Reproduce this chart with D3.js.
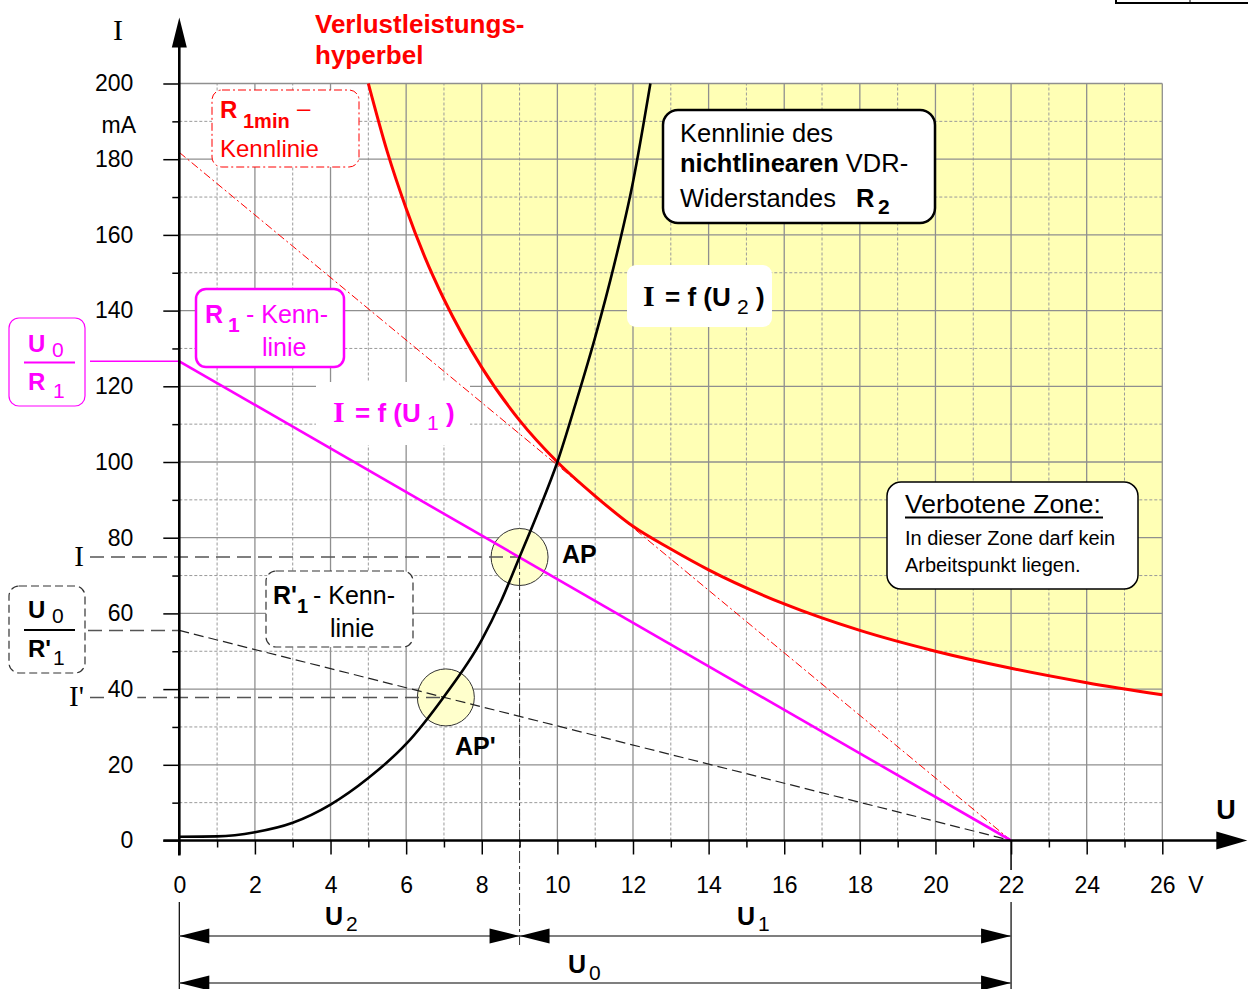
<!DOCTYPE html>
<html>
<head>
<meta charset="utf-8">
<script src="https://cdn.jsdelivr.net/npm/d3@7"></script>
<style>
  html, body { margin: 0; padding: 0; background: #fff; }
  svg { display: block; font-family: "Liberation Sans", Arial, sans-serif; }
  text { white-space: pre; }
</style>
</head>
<body>
<div id="chart"></div>
<script>
// Achsen
const U_TICKS = d3.range(0, 27, 2);
const U_MINOR = d3.range(1, 27, 2);
const I_TICKS = d3.range(0, 201, 20);
const I_MINOR = d3.range(10, 200, 20);

// Kennlinie VDR-Widerstand R2
const vdrU = [0, 1, 2, 3, 4, 5, 6, 7, 8, 8.5, 9, 9.5, 10, 10.5, 11, 11.5, 12, 12.46];
const vdrI = [1, 1.1, 2.2, 4.7, 9.5, 16.5, 25.5, 38, 53, 63, 74.9, 87, 100, 116, 133, 152, 174, 200];

// Verlustleistungshyperbel
const hypU = [5, 5.5, 6, 6.5, 7, 8, 9, 10, 11, 12, 13, 14, 16, 18, 20, 22, 24, 26];
const hypI = [200, 182, 167, 154, 143, 125, 111, 100, 91, 83, 77, 71.5, 62.5, 55.5, 50, 45.5, 41.7, 38.5];

// Widerstandsgeraden
const lineU = [0, 22];
const r1I = [126.6, 0];
const r1minI = [181.8, 0];
const r1pI = [55.5, 0];

// Arbeitspunkte
const apU = [9, 7.05];
const apI = [74.9, 37.8];
const apName = ['AP', "AP'"];

const W = 1248, H = 989;
const SERIF = '"Liberation Serif", "Times New Roman", serif';
const PINK = '#ff00ff', RED = '#ff0000';

const svg = d3.select('#chart').append('svg').attr('width', W).attr('height', H);
svg.append('rect').attr('width', W).attr('height', H).attr('fill', '#fff');

const x = d3.scaleLinear().domain([0, 26]).range([179.3, 1162.3]);
const y = d3.scaleLinear().domain([0, 200]).range([840.5, 83.5]);

const pts = (us, is) => us.map((u, k) => [u, is[k]]);
const line = d3.line().x(d => x(d[0])).y(d => y(d[1]));

// Verbotene Zone
svg.append('path')
  .datum(pts(hypU, hypI))
  .attr('d', d3.area().x(d => x(d[0])).y0(y(200)).y1(d => y(d[1])).curve(d3.curveMonotoneX))
  .attr('fill', '#ffffb5');

// Raster
const grid = svg.append('g');
grid.selectAll('line.v').data(d3.range(1, 27)).join('line')
  .attr('x1', d => x(d)).attr('x2', d => x(d))
  .attr('y1', y(0)).attr('y2', y(200))
  .attr('stroke', d => d % 2 ? '#9a9a9a' : '#8f8f8f')
  .attr('stroke-width', d => d % 2 ? 1 : 1.3)
  .attr('stroke-dasharray', d => d % 2 ? '3,2' : null);
grid.selectAll('line.h').data(d3.range(10, 201, 10)).join('line')
  .attr('x1', x(0)).attr('x2', x(26))
  .attr('y1', d => y(d)).attr('y2', d => y(d))
  .attr('stroke', d => d % 20 ? '#9a9a9a' : '#8f8f8f')
  .attr('stroke-width', d => d % 20 ? 1 : 1.3)
  .attr('stroke-dasharray', d => d % 20 ? '3,2' : null);

function box(x0, y0, x1, y1, r, stroke, sw, dash) {
  svg.append('rect')
    .attr('x', x0).attr('y', y0).attr('width', x1 - x0).attr('height', y1 - y0)
    .attr('rx', r).attr('ry', r)
    .attr('fill', '#fff')
    .attr('stroke', stroke || 'none')
    .attr('stroke-width', sw || 0)
    .attr('stroke-dasharray', dash || null);
}

// Kästen
box(212, 90, 359, 167, 10, RED, 1, '8,3,2,3');
box(663, 110, 935, 223, 15, '#000', 2.5);
box(627, 265, 772, 327, 9);
box(196, 289, 344, 367, 10, PINK, 2.5);
box(9, 318, 85, 406, 10, PINK, 1.2);
box(316, 382, 470, 445, 0);
box(887, 482, 1138, 589, 14, '#000', 1.5);
box(266, 571, 413, 647, 10, '#333', 1.2, '8,4');
box(9, 586, 85, 673, 10, '#333', 1.2, '8,4');

// Kreise um die Arbeitspunkte
svg.selectAll('circle.ap').data(apU).join('circle')
  .attr('cx', d => x(d)).attr('cy', (d, k) => y(apI[k]))
  .attr('r', 28.5)
  .attr('fill', '#ffffcc')
  .attr('stroke', '#333').attr('stroke-width', 1);

// Hilfslinien
const helper = svg.append('g').attr('fill', 'none');
helper.append('line')
  .attr('x1', 90).attr('x2', x(apU[0])).attr('y1', y(apI[0])).attr('y2', y(apI[0]))
  .attr('stroke', '#555').attr('stroke-width', 1.4).attr('stroke-dasharray', '14,7');
helper.append('line')
  .attr('x1', 90).attr('x2', x(apU[1])).attr('y1', y(apI[1])).attr('y2', y(apI[1]))
  .attr('stroke', '#555').attr('stroke-width', 1.4).attr('stroke-dasharray', '14,7');
helper.append('line')
  .attr('x1', 88).attr('x2', x(0)).attr('y1', y(r1pI[0])).attr('y2', y(r1pI[0]))
  .attr('stroke', '#555').attr('stroke-width', 1.4).attr('stroke-dasharray', '14,7');
helper.append('line')
  .attr('x1', 90).attr('x2', x(0)).attr('y1', y(r1I[0])).attr('y2', y(r1I[0]))
  .attr('stroke', PINK).attr('stroke-width', 1.5);
helper.append('line')
  .attr('x1', x(apU[0])).attr('x2', x(apU[0])).attr('y1', y(apI[0])).attr('y2', 945)
  .attr('stroke', '#333').attr('stroke-width', 1).attr('stroke-dasharray', '12,3,3,3');

// Kennlinien
svg.append('path').datum(pts(lineU, r1minI)).attr('d', line)
  .attr('fill', 'none').attr('stroke', RED).attr('stroke-width', 1).attr('stroke-dasharray', '8,3,2,3');
svg.append('path').datum(pts(lineU, r1pI)).attr('d', line)
  .attr('fill', 'none').attr('stroke', '#222').attr('stroke-width', 1.2).attr('stroke-dasharray', '10,5');
svg.append('path').datum(pts(lineU, r1I)).attr('d', line)
  .attr('fill', 'none').attr('stroke', PINK).attr('stroke-width', 2.6);
svg.append('path').datum(pts(hypU, hypI)).attr('d', line.curve(d3.curveMonotoneX))
  .attr('fill', 'none').attr('stroke', RED).attr('stroke-width', 3);
svg.append('path').datum(pts(vdrU, vdrI)).attr('d', d3.line().x(d => x(d[0])).y(d => y(d[1])).curve(d3.curveMonotoneX))
  .attr('fill', 'none').attr('stroke', '#000').attr('stroke-width', 2.6);

// Achsen
const fontAxis = g => g.selectAll('text').attr('font-size', 23).attr('fill', '#000')
  .attr('font-family', '"Liberation Sans", Arial, sans-serif');

const yG = svg.append('g').attr('transform', `translate(${x(0)},0)`)
  .call(d3.axisLeft(y).tickValues(I_TICKS).tickSize(16).tickPadding(30).tickSizeOuter(0))
  .call(fontAxis);
yG.select('.domain').remove();
yG.selectAll('line').attr('stroke', '#000').attr('stroke-width', 1.5);
yG.selectAll('.tick').filter(d => d === 40).insert('rect', 'text')
  .attr('x', -74).attr('y', -12).attr('width', 32).attr('height', 24).attr('fill', '#fff');

const yMinor = svg.append('g').attr('transform', `translate(${x(0)},0)`)
  .call(d3.axisLeft(y).tickValues(I_MINOR).tickSize(7).tickFormat('').tickSizeOuter(0));
yMinor.select('.domain').remove();
yMinor.selectAll('line').attr('stroke', '#000').attr('stroke-width', 1.5);

const xG = svg.append('g').attr('transform', `translate(0,${y(0)})`)
  .call(d3.axisBottom(x).tickValues(U_TICKS).tickSize(14).tickPadding(22).tickSizeOuter(0))
  .call(fontAxis);
xG.select('.domain').remove();
xG.selectAll('line').attr('stroke', '#000').attr('stroke-width', 1.5);

const xMinor = svg.append('g').attr('transform', `translate(0,${y(0)})`)
  .call(d3.axisBottom(x).tickValues(U_MINOR).tickSize(7).tickFormat('').tickSizeOuter(0));
xMinor.select('.domain').remove();
xMinor.selectAll('line').attr('stroke', '#000').attr('stroke-width', 1.5);

// Achsenlinien mit Pfeilen
svg.append('line').attr('x1', x(0)).attr('x2', x(0)).attr('y1', y(0) + 15).attr('y2', y(200) - 37)
  .attr('stroke', '#000').attr('stroke-width', 2.6);
svg.append('line').attr('x1', x(0) - 16).attr('x2', x(26) + 56).attr('y1', y(0)).attr('y2', y(0))
  .attr('stroke', '#000').attr('stroke-width', 2.6);

function arrow(tx, ty, dir, len, half) {
  const p = {
    up: [[tx, ty], [tx - half, ty + len], [tx + half, ty + len]],
    left: [[tx, ty], [tx + len, ty - half], [tx + len, ty + half]],
    right: [[tx, ty], [tx - len, ty - half], [tx - len, ty + half]]
  }[dir];
  svg.append('path').attr('d', 'M' + p.join('L') + 'Z').attr('fill', '#000');
}
arrow(x(0), y(200) - 66, 'up', 30, 7.5);
arrow(x(26) + 85, y(0), 'right', 31, 9);

// Bemaßung U2, U1, U0
const dimY1 = 936, dimY2 = 983;
svg.append('line').attr('x1', x(0)).attr('x2', x(0)).attr('y1', 902).attr('y2', H)
  .attr('stroke', '#000').attr('stroke-width', 1.2);
svg.append('line').attr('x1', x(22)).attr('x2', x(22)).attr('y1', y(0)).attr('y2', 870)
  .attr('stroke', '#000').attr('stroke-width', 1.5);
svg.append('line').attr('x1', x(22)).attr('x2', x(22)).attr('y1', 902).attr('y2', H)
  .attr('stroke', '#000').attr('stroke-width', 1.2);
[[0, apU[0], dimY1], [apU[0], 22, dimY1], [0, 22, dimY2]].forEach(([a, b, yy]) => {
  svg.append('line').attr('x1', x(a)).attr('x2', x(b)).attr('y1', yy).attr('y2', yy)
    .attr('stroke', '#555').attr('stroke-width', 1.5);
  arrow(x(a), yy, 'left', 30, 7.5);
  arrow(x(b), yy, 'right', 30, 7.5);
});

// Texte
function rich(parts, color) {
  const t = svg.append('text').attr('fill', color || '#000');
  parts.forEach(p => {
    const s = t.append('tspan').text(p.t)
      .attr('x', p.x).attr('y', p.y)
      .attr('font-size', p.s || 25)
      .attr('font-weight', p.b ? 'bold' : 'normal');
    if (p.serif) s.attr('font-family', SERIF);
  });
  return t;
}

svg.append('text').attr('x', 118).attr('y', 40).attr('text-anchor', 'middle')
  .attr('font-family', SERIF).attr('font-size', 30).text('I');
svg.append('text').attr('x', 136).attr('y', 133).attr('text-anchor', 'end')
  .attr('font-size', 23).text('mA');
svg.append('text').attr('x', 1226).attr('y', 819).attr('text-anchor', 'middle')
  .attr('font-size', 27).attr('font-weight', 'bold').text('U');
svg.append('text').attr('x', 1196).attr('y', 893).attr('text-anchor', 'middle')
  .attr('font-size', 23).text('V');

rich([{ t: 'Verlustleistungs-', x: 315, y: 33, s: 26, b: true },
      { t: 'hyperbel', x: 315, y: 64, s: 26, b: true }], RED);

rich([{ t: 'R', x: 220, y: 118, s: 24, b: true },
      { t: '1min', x: 243, y: 128, s: 20, b: true },
      { t: '–', x: 297, y: 116, s: 24 },
      { t: 'Kennlinie', x: 220, y: 157, s: 24 }], RED);

rich([{ t: 'Kennlinie des', x: 680, y: 142, s: 25.5 },
      { t: 'nichtlinearen', x: 680, y: 172, s: 25.5, b: true },
      { t: ' VDR-', s: 25.5 },
      { t: 'Widerstandes', x: 680, y: 207, s: 25.5 },
      { t: 'R', x: 856, y: 207, s: 25.5, b: true },
      { t: '2', x: 878, y: 214, s: 21, b: true }]);

rich([{ t: 'I', x: 643, y: 306, s: 30, b: true, serif: true },
      { t: '= f (U', x: 665, y: 306, s: 26, b: true },
      { t: '2', x: 737, y: 314, s: 21 },
      { t: ')', x: 756, y: 306, s: 26, b: true }]);

rich([{ t: 'I', x: 333, y: 422, s: 30, b: true, serif: true },
      { t: '= f (U', x: 355, y: 422, s: 26, b: true },
      { t: '1', x: 427, y: 430, s: 21 },
      { t: ')', x: 446, y: 422, s: 26, b: true }], PINK);

rich([{ t: 'R', x: 205, y: 323, s: 25, b: true },
      { t: '1', x: 228, y: 332, s: 21, b: true },
      { t: '- Kenn-', x: 246, y: 323, s: 25 },
      { t: 'linie', x: 262, y: 356, s: 25 }], PINK);

rich([{ t: 'U', x: 28, y: 352, s: 24, b: true },
      { t: '0', x: 52, y: 357, s: 21 },
      { t: 'R', x: 28, y: 390, s: 24, b: true },
      { t: '1', x: 53, y: 398, s: 21 }], PINK);
svg.append('line').attr('x1', 24).attr('x2', 75).attr('y1', 362.5).attr('y2', 362.5)
  .attr('stroke', PINK).attr('stroke-width', 2.2);

rich([{ t: 'U', x: 28, y: 618, s: 24, b: true },
      { t: '0', x: 52, y: 623, s: 21 },
      { t: "R'", x: 28, y: 657, s: 24, b: true },
      { t: '1', x: 53, y: 665, s: 21 }]);
svg.append('line').attr('x1', 24).attr('x2', 75).attr('y1', 630).attr('y2', 630)
  .attr('stroke', '#000').attr('stroke-width', 2.2);

rich([{ t: "R'", x: 273, y: 604, s: 25, b: true },
      { t: '1', x: 297, y: 613, s: 20, b: true },
      { t: '- Kenn-', x: 313, y: 604, s: 25 },
      { t: 'linie', x: 330, y: 637, s: 25 }]);

svg.append('text').attr('x', 79).attr('y', 566).attr('text-anchor', 'middle')
  .attr('font-family', SERIF).attr('font-size', 29).text('I');
svg.append('text').attr('x', 69).attr('y', 706)
  .attr('font-family', SERIF).attr('font-size', 29).text("I'");

svg.selectAll('text.ap').data(apName).join('text')
  .attr('x', (d, k) => k ? 455 : 562).attr('y', (d, k) => k ? 755 : 563)
  .attr('font-size', 25).attr('font-weight', 'bold').text(d => d);

rich([{ t: 'Verbotene Zone:', x: 905, y: 513, s: 26.5 },
      { t: 'In dieser Zone darf kein', x: 905, y: 545, s: 20 },
      { t: 'Arbeitspunkt liegen.', x: 905, y: 572, s: 20 }]);
svg.append('line').attr('x1', 905).attr('x2', 1103).attr('y1', 517.5).attr('y2', 517.5)
  .attr('stroke', '#000').attr('stroke-width', 1.8);

rich([{ t: 'U', x: 325, y: 925, s: 25, b: true }, { t: '2', x: 346, y: 931, s: 21 }]);
rich([{ t: 'U', x: 737, y: 925, s: 25, b: true }, { t: '1', x: 758, y: 931, s: 21 }]);
rich([{ t: 'U', x: 568, y: 973, s: 25, b: true }, { t: '0', x: 589, y: 980, s: 21 }]);

// Tabellenrand oben rechts
svg.append('path').attr('d', 'M1116,0V3H1248').attr('fill', 'none').attr('stroke', '#000').attr('stroke-width', 2);
svg.append('line').attr('x1', 1190).attr('x2', 1190).attr('y1', 0).attr('y2', 2).attr('stroke', '#000');
</script>
</body>
</html>
